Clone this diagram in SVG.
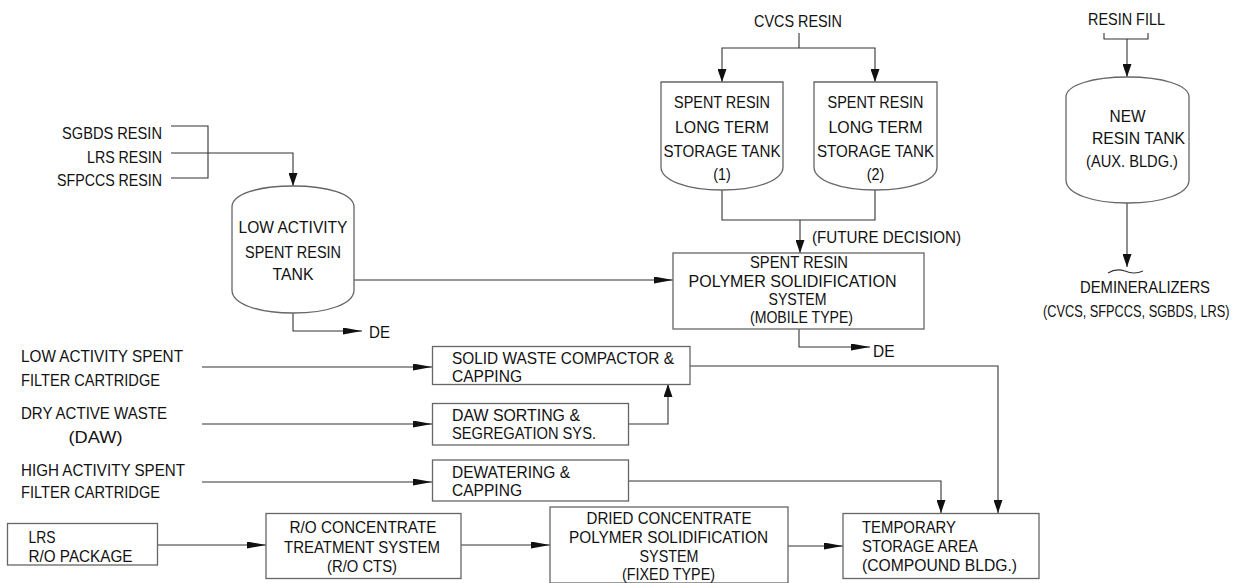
<svg xmlns="http://www.w3.org/2000/svg" width="1234" height="583" viewBox="0 0 1234 583">
<style>
text{font-family:"Liberation Sans",Arial,sans-serif;font-size:17px;fill:#111}
.m{text-anchor:middle}
.e{text-anchor:end}
.box{fill:#fff;stroke:#666;stroke-width:1.3}
.ln{fill:none;stroke:#333;stroke-width:1.1}
.av{marker-end:url(#av)}
.ah{marker-end:url(#ah)}
</style>
<defs>
<marker id="av" markerWidth="13" markerHeight="9" refX="13" refY="4.5" orient="auto" markerUnits="userSpaceOnUse" viewBox="0 0 13 9"><path d="M0,0 L13,4.5 L0,9 Z" fill="#111"/></marker>
<marker id="ah" markerWidth="19" markerHeight="7" refX="19" refY="3.5" orient="auto" markerUnits="userSpaceOnUse" viewBox="0 0 19 7"><path d="M0,0 L19,3.5 L0,7 Z" fill="#111"/></marker>
</defs>
<rect width="1234" height="583" fill="#fff"/>

<g id="connectors">
<path class="ln" d="M171,126 H208 V178 H171"/>
<path class="ln av" d="M171,153 H293 V186"/>
<path class="ln ah" d="M354,280 H673"/>
<path class="ln ah" d="M293,313 V331 H362"/>
<path class="ln" d="M799,33 V48"/>
<path class="ln av" d="M799,48 H722 V82"/>
<path class="ln av" d="M799,48 H875 V82"/>
<path class="ln" d="M722,190 V220 H875 V190"/>
<path class="ln av" d="M800,220 V253"/>
<path class="ln ah" d="M799,329 V347 H870"/>
<path class="ln" d="M1104,33 V39 H1148 V33"/>
<path class="ln av" d="M1127,39 V77"/>
<path class="ln av" d="M1127,203 V267"/>
<path class="ln" d="M1108,273 Q1116,268 1125,271 Q1134,275 1143,271"/>
<path class="ln ah" d="M202,367 H432"/>
<path class="ln ah" d="M202,424 H432"/>
<path class="ln ah" d="M202,482 H432"/>
<path class="ln av" d="M628,424 H668 V384"/>
<path class="ln av" d="M690,366 H998 V513"/>
<path class="ln av" d="M628,481 H941 V513"/>
<path class="ln ah" d="M158,545 H266"/>
<path class="ln ah" d="M461,545 H550"/>
<path class="ln ah" d="M788,546 H843"/>
</g>

<g id="sources">
<text class="e" x="162" y="139" textLength="100" lengthAdjust="spacingAndGlyphs">SGBDS RESIN</text>
<text class="e" x="162" y="163" textLength="75" lengthAdjust="spacingAndGlyphs">LRS RESIN</text>
<text class="e" x="162" y="186" textLength="105" lengthAdjust="spacingAndGlyphs">SFPCCS RESIN</text>
<text class="m" x="798" y="27" textLength="88" lengthAdjust="spacingAndGlyphs">CVCS RESIN</text>
<text class="m" x="1126.5" y="25" textLength="77" lengthAdjust="spacingAndGlyphs">RESIN FILL</text>
<text x="21" y="362" textLength="162" lengthAdjust="spacingAndGlyphs">LOW ACTIVITY SPENT</text>
<text x="21" y="386" textLength="139" lengthAdjust="spacingAndGlyphs">FILTER CARTRIDGE</text>
<text x="21" y="419" textLength="146" lengthAdjust="spacingAndGlyphs">DRY ACTIVE WASTE</text>
<text class="m" x="95.5" y="443" textLength="54" lengthAdjust="spacingAndGlyphs">(DAW)</text>
<text x="21" y="476" textLength="164" lengthAdjust="spacingAndGlyphs">HIGH ACTIVITY SPENT</text>
<text x="21" y="498" textLength="139" lengthAdjust="spacingAndGlyphs">FILTER CARTRIDGE</text>
<text x="369" y="338" textLength="21" lengthAdjust="spacingAndGlyphs">DE</text>
<text x="873" y="357" textLength="21.5" lengthAdjust="spacingAndGlyphs">DE</text>
<text x="812" y="243" textLength="149" lengthAdjust="spacingAndGlyphs">(FUTURE DECISION)</text>
</g>

<g id="low-activity-tank">
<path class="box" d="M232,207 C232,194 258,186 293,186 C328,186 354,194 354,207 L354,290 C354,304 328,313 293,313 C258,313 232,304 232,290 Z"/>
<text class="m" x="293" y="233" textLength="109" lengthAdjust="spacingAndGlyphs">LOW ACTIVITY</text>
<text class="m" x="293" y="258" textLength="96" lengthAdjust="spacingAndGlyphs">SPENT RESIN</text>
<text class="m" x="293" y="280" textLength="41" lengthAdjust="spacingAndGlyphs">TANK</text>
</g>

<g id="storage-tank-1">
<path class="box" d="M661,82 H783 V167 C783,180 758,190 722,190 C686,190 661,180 661,167 Z"/>
<text class="m" x="722" y="108" textLength="96" lengthAdjust="spacingAndGlyphs">SPENT RESIN</text>
<text class="m" x="722" y="133" textLength="94" lengthAdjust="spacingAndGlyphs">LONG TERM</text>
<text class="m" x="722" y="157" textLength="117" lengthAdjust="spacingAndGlyphs">STORAGE TANK</text>
<text class="m" x="722" y="180" textLength="17.5" lengthAdjust="spacingAndGlyphs">(1)</text>
</g>

<g id="storage-tank-2">
<path class="box" d="M814,82 H937 V167 C937,180 912,190 875.5,190 C839,190 814,180 814,167 Z"/>
<text class="m" x="875.5" y="108" textLength="96" lengthAdjust="spacingAndGlyphs">SPENT RESIN</text>
<text class="m" x="875.5" y="133" textLength="94" lengthAdjust="spacingAndGlyphs">LONG TERM</text>
<text class="m" x="875.5" y="157" textLength="117" lengthAdjust="spacingAndGlyphs">STORAGE TANK</text>
<text class="m" x="875.5" y="180" textLength="17.5" lengthAdjust="spacingAndGlyphs">(2)</text>
</g>

<g id="new-resin-tank">
<path class="box" d="M1066,97 C1066,85 1093,77 1127.5,77 C1162,77 1189,85 1189,97 L1189,180 C1189,194 1162,203 1127.5,203 C1093,203 1066,194 1066,180 Z"/>
<text class="m" x="1127.5" y="122" textLength="36" lengthAdjust="spacingAndGlyphs">NEW</text>
<text class="m" x="1138.5" y="144" textLength="93" lengthAdjust="spacingAndGlyphs">RESIN TANK</text>
<text class="m" x="1132" y="167" textLength="92" lengthAdjust="spacingAndGlyphs">(AUX. BLDG.)</text>
</g>

<g id="demineralizers">
<text class="e" x="1210" y="293" textLength="130" lengthAdjust="spacingAndGlyphs">DEMINERALIZERS</text>
<text class="e" x="1229.5" y="317" textLength="186.5" lengthAdjust="spacingAndGlyphs">(CVCS, SFPCCS, SGBDS, LRS)</text>
</g>

<g id="polymer-mobile">
<rect class="box" x="673" y="253" width="251" height="76"/>
<text class="m" x="799" y="268" textLength="98" lengthAdjust="spacingAndGlyphs">SPENT RESIN</text>
<text class="m" x="792.5" y="287" textLength="208" lengthAdjust="spacingAndGlyphs">POLYMER SOLIDIFICATION</text>
<text class="m" x="797.5" y="305" textLength="58" lengthAdjust="spacingAndGlyphs">SYSTEM</text>
<text class="m" x="801.5" y="323" textLength="103" lengthAdjust="spacingAndGlyphs">(MOBILE TYPE)</text>
</g>

<g id="compactor">
<rect class="box" x="432.5" y="346.5" width="257.5" height="38"/>
<text x="452" y="364" textLength="222" lengthAdjust="spacingAndGlyphs">SOLID WASTE COMPACTOR &amp;</text>
<text x="452" y="382" textLength="70" lengthAdjust="spacingAndGlyphs">CAPPING</text>
</g>

<g id="daw-sorting">
<rect class="box" x="432.5" y="403.5" width="196" height="41.5"/>
<text x="452" y="421" textLength="128" lengthAdjust="spacingAndGlyphs">DAW SORTING &amp;</text>
<text x="452" y="439" textLength="144" lengthAdjust="spacingAndGlyphs">SEGREGATION SYS.</text>
</g>

<g id="dewatering">
<rect class="box" x="432.5" y="460" width="196" height="41"/>
<text x="452" y="478" textLength="118" lengthAdjust="spacingAndGlyphs">DEWATERING &amp;</text>
<text x="452" y="496" textLength="70" lengthAdjust="spacingAndGlyphs">CAPPING</text>
</g>

<g id="lrs-ro">
<rect class="box" x="7.5" y="523.5" width="150" height="41.5"/>
<text x="28.5" y="543" textLength="27" lengthAdjust="spacingAndGlyphs">LRS</text>
<text x="28.5" y="562" textLength="104" lengthAdjust="spacingAndGlyphs">R/O PACKAGE</text>
</g>

<g id="ro-cts">
<rect class="box" x="266" y="513.5" width="195" height="65"/>
<text class="m" x="363" y="533" textLength="147" lengthAdjust="spacingAndGlyphs">R/O CONCENTRATE</text>
<text class="m" x="362" y="553" textLength="156" lengthAdjust="spacingAndGlyphs">TREATMENT SYSTEM</text>
<text class="m" x="362" y="572" textLength="70" lengthAdjust="spacingAndGlyphs">(R/O CTS)</text>
</g>

<g id="polymer-fixed">
<rect class="box" x="550" y="507" width="238" height="76"/>
<text class="m" x="669" y="524" textLength="165" lengthAdjust="spacingAndGlyphs">DRIED CONCENTRATE</text>
<text class="m" x="668.5" y="543" textLength="199" lengthAdjust="spacingAndGlyphs">POLYMER SOLIDIFICATION</text>
<text class="m" x="669" y="562" textLength="59" lengthAdjust="spacingAndGlyphs">SYSTEM</text>
<text class="m" x="668.5" y="580" textLength="93" lengthAdjust="spacingAndGlyphs">(FIXED TYPE)</text>
</g>

<g id="temporary-storage">
<rect class="box" x="843" y="513.5" width="196" height="65"/>
<text x="862" y="533" textLength="94" lengthAdjust="spacingAndGlyphs">TEMPORARY</text>
<text x="862" y="552" textLength="116" lengthAdjust="spacingAndGlyphs">STORAGE AREA</text>
<text x="862" y="571" textLength="155" lengthAdjust="spacingAndGlyphs">(COMPOUND BLDG.)</text>
</g>
</svg>
